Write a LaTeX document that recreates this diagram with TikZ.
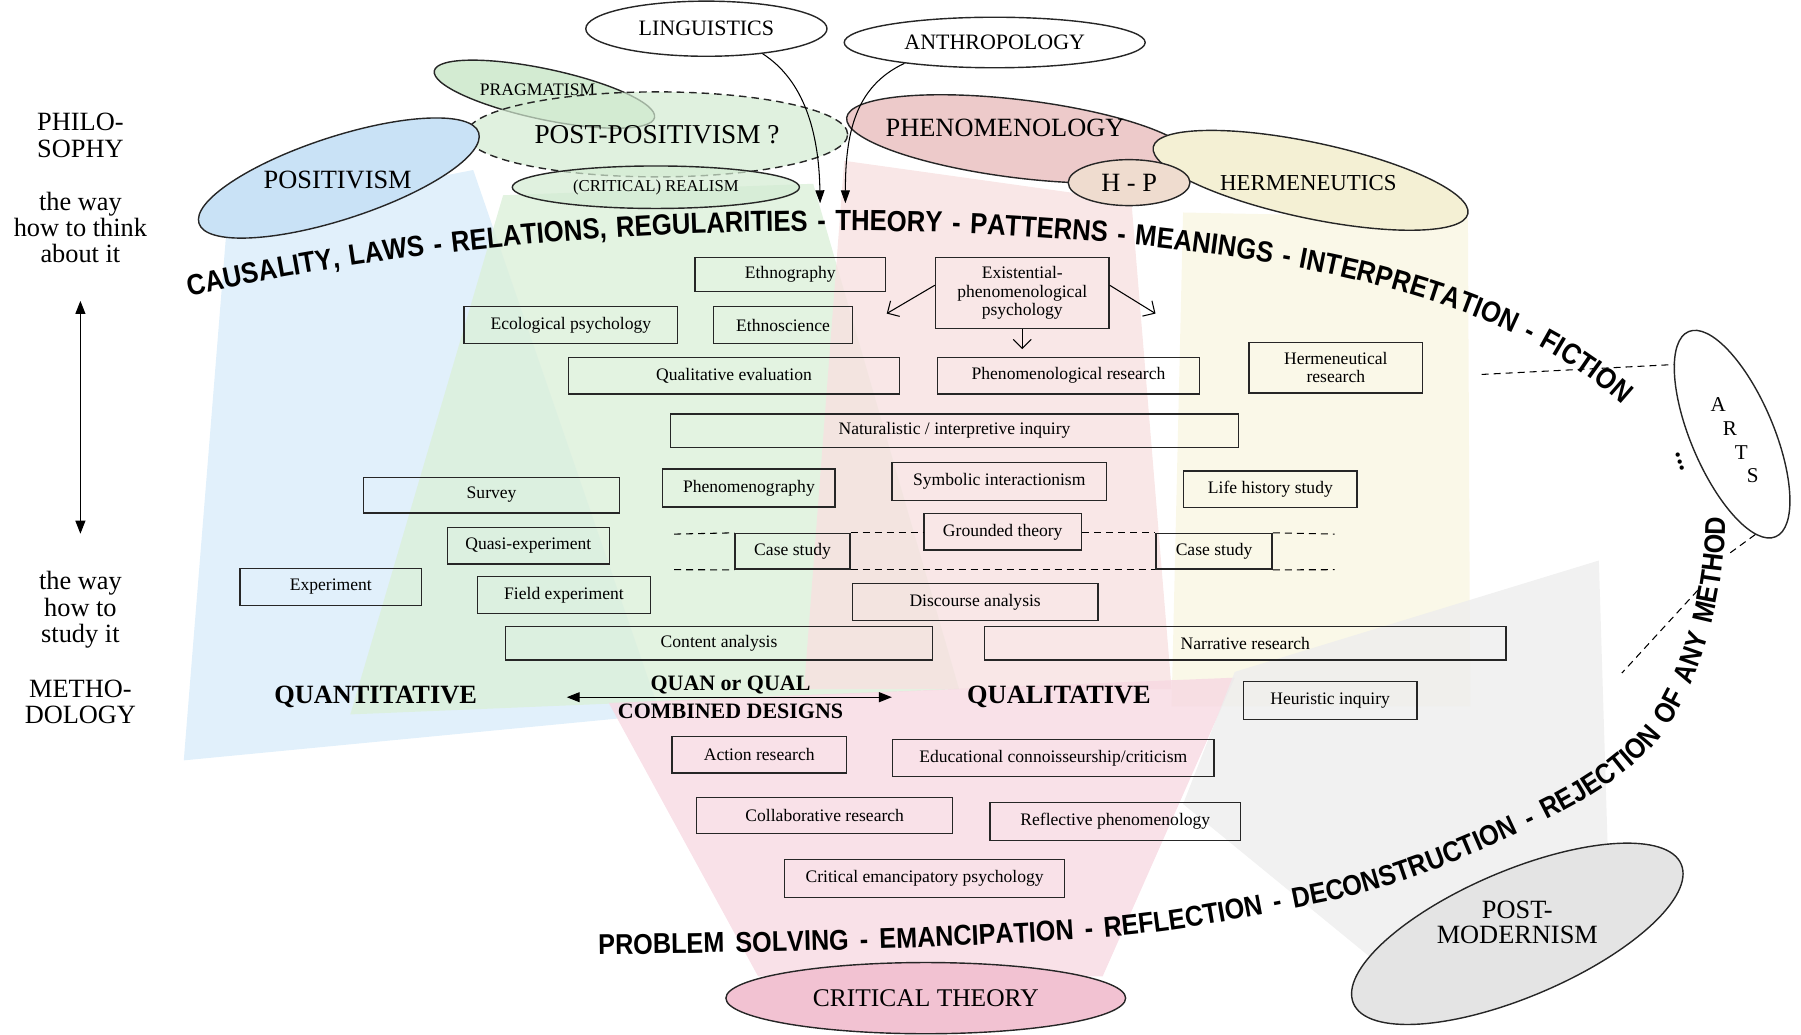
\documentclass[tikz,border=0pt]{standalone}
\usepackage{fontspec}
\setmainfont{Liberation Serif}
\newfontfamily\claimfont{Liberation Sans}[FakeStretch=0.88]
\usetikzlibrary{positioning,shapes.geometric,arrows.meta,decorations.text}

\begin{document}
\begin{tikzpicture}[x=0.22974mm, y=-0.22974mm]
       \definecolor{posblue}{HTML}{C9E2F6}
       \definecolor{beamblue}{HTML}{D9ECFA}
       \definecolor{postgreen}{HTML}{D3EBD2}
       \definecolor{beamgreen}{HTML}{DCF0DA}
       \definecolor{phenpink}{HTML}{EDCACA}
       \definecolor{beampink}{HTML}{F7E1E1}
       \definecolor{hermyellow}{HTML}{F4F0D4}
       \definecolor{beamyellow}{HTML}{F9F6E2}
       \definecolor{hpbeige}{HTML}{EFDCCF}
       \definecolor{critpink}{HTML}{F2C2D2}
       \definecolor{beamcrit}{HTML}{F7D9E2}
       \definecolor{postgray}{HTML}{E4E4E4}
       \definecolor{beamgray}{HTML}{EDEDED}

       \newcommand{\pxu}[0]{0.22974mm}
       \newcommand{\boxtext}[0]{\fontsize{10}{10.5}\selectfont}
       \newcommand{\topclaim}[0]{\claimfont\bfseries\fontsize{16.6}{16.6}\selectfont}
       \newcommand{\bottomclaim}[0]{\claimfont\bfseries\fontsize{16.3}{16.3}\selectfont}

       \tikzstyle{method}    = [rectangle, draw=black!85, thick, inner sep=0pt, align=center, font=\boxtext]
       \tikzstyle{school}    = [ellipse, draw=black!85, thick, inner sep=0pt, text opacity=1]
       \tikzstyle{beam}      = [fill opacity=0.8]
       \tikzstyle{sidenote}  = [align=center, inner sep=0pt, font=\fontsize{15}{15}\selectfont]
       \tikzstyle{approach}  = [align=center, inner sep=0pt, font=\bfseries\fontsize{15}{15}\selectfont]
       \tikzstyle{influence} = [semithick, -{Triangle[length=2.6mm, width=1.8mm]}]
       \tikzstyle{offshoot}  = [semithick, -{Straight Barb[length=1.8mm, width=3.6mm]}]
       \tikzstyle{twoway}    = [semithick, {Triangle[length=2.6mm, width=2mm]}-{Triangle[length=2.6mm, width=2mm]}]
       \tikzstyle{hint}      = [semithick, dash pattern=on 1.4mm off 1mm]

       \useasboundingbox (0,0) rectangle (1568,901);

       \fill [beam, beamblue]   (198,190) -- (412,148) -- (575,622) -- (160,662) -- cycle;
       \fill [beam, beamgreen]  (438,170) -- (708,160) -- (835,600) -- (305,622) -- cycle;
       \fill [beam, beampink]   (735,140) -- (985,175) -- (1020,600) -- (700,600) -- cycle;
       \fill [beam, beamyellow] (1030,185) -- (1278,190) -- (1280,615) -- (1020,615) -- cycle;
       \fill [beam, beamcrit]   (530,612) -- (1075,590) -- (960,850) -- (660,850) -- cycle;
       \fill [beam, beamgray]   (1075,585) -- (1392,488) -- (1400,748) -- (1195,835) -- (1030,700) -- cycle;

       \node [school, fill=postgreen, rotate=-12, minimum width=196*\pxu, minimum height=44*\pxu] (pragmatism) at (474,82) {};
       \node [font=\fontsize{10}{10}\selectfont] (praglabel) at (468,78) {PRAGMATISM};
       \node [school, fill=phenpink, rotate=-7, minimum width=304*\pxu, minimum height=68*\pxu] (phenomenology) at (888,121) {};
       \node [font=\fontsize{15}{15}\selectfont] (phenlabel) at (875,111) {PHENOMENOLOGY};
       \node [school, dash pattern=on 1.5mm off 1mm, fill=postgreen, fill opacity=0.7, minimum width=332*\pxu, minimum height=74*\pxu,
              font=\fontsize{15.5}{15.5}\selectfont] (postpositivism) at (572,117) {POST-POSITIVISM ?};
       \node [school, fill=postgreen, fill opacity=0.7, minimum width=250*\pxu, minimum height=37*\pxu,
              font=\fontsize{9.5}{9.5}\selectfont] (realism) at (571,163) {(CRITICAL) REALISM};
       \node [school, fill=posblue, rotate=18, minimum width=256*\pxu, minimum height=72*\pxu] (positivism) at (295,155) {};
       \node [font=\fontsize{15}{15}\selectfont] (poslabel) at (294,157) {POSITIVISM};
       \node [school, fill=hermyellow, rotate=-12, minimum width=280*\pxu, minimum height=66*\pxu] (hermeneutics) at (1141,157) {};
       \node [font=\fontsize{13}{13}\selectfont] (hermlabel) at (1139,159) {HERMENEUTICS};
       \node [school, fill=hpbeige, minimum width=106*\pxu, minimum height=40*\pxu, font=\fontsize{15}{15}\selectfont] (hp) at (983,159) {H - P};
       \node [school, fill=white, minimum width=210*\pxu, minimum height=48*\pxu, font=\fontsize{12.5}{12.5}\selectfont] (linguistics) at (615,25) {LINGUISTICS};
       \node [school, fill=white, minimum width=262*\pxu, minimum height=44*\pxu, font=\fontsize{12.5}{12.5}\selectfont] (anthropology) at (866,37) {ANTHROPOLOGY};
       \node [school, fill=critpink, minimum width=348*\pxu, minimum height=62*\pxu, font=\fontsize{14.5}{14.5}\selectfont] (criticaltheory) at (806,869) {CRITICAL THEORY};
       \node [school, fill=postgray, rotate=23, minimum width=310*\pxu, minimum height=110*\pxu] (postmodernism) at (1321,813) {};
       \node [align=center, font=\fontsize{15}{14.5}\selectfont] (pmlabel) at (1321,803) {POST-\\MODERNISM};
       \node [school, fill=white, rotate=-67, minimum width=194*\pxu, minimum height=72*\pxu] (arts) at (1508,378) {};
       \node [font=\fontsize{12}{12}\selectfont] (artsa) at (1496,352) {A};
       \node [font=\fontsize{12}{12}\selectfont] (artsr) at (1506,373) {R};
       \node [font=\fontsize{12}{12}\selectfont] (artst) at (1516,394) {T};
       \node [font=\fontsize{12}{12}\selectfont] (artss) at (1526,414) {S};
       \node [rotate=-72, font=\bfseries\fontsize{15}{15}\selectfont] (artsdots) at (1463,402) {...};

       \node [sidenote] (philosophy)  at (70,118) {PHILO-\\SOPHY};
       \node [sidenote] (thinkway)    at (70,198) {the way\\how to think\\about it};
       \node [sidenote] (studyway)    at (70,531) {the way\\how to\\study it};
       \node [sidenote] (methodology) at (70,611) {METHO-\\DOLOGY};

       \node [method, minimum width=166*\pxu, minimum height=30*\pxu] (ethnography) at (688,239) {Ethnography};
       \node [method, minimum width=151*\pxu, minimum height=62*\pxu] (existential) at (890,255) {Existential-\\phenomenological\\psychology};
       \node [method, minimum width=186*\pxu, minimum height=32*\pxu] (ecological) at (497,283) {Ecological psychology};
       \node [method, right=6.9mm of ecological, minimum width=121*\pxu, minimum height=32*\pxu] (ethnoscience) {Ethnoscience};
       \node [method, minimum width=288*\pxu, minimum height=32*\pxu] (qualeval) at (639,327) {Qualitative evaluation};
       \node [method, right=7.35mm of qualeval, minimum width=228*\pxu, minimum height=32*\pxu] (phenresearch) {Phenomenological research};
       \node [method, minimum width=151*\pxu, minimum height=44*\pxu] (hermresearch) at (1163,320) {Hermeneutical\\research};
       \node [method, minimum width=495*\pxu, minimum height=29*\pxu] (naturalistic) at (831,375) {Naturalistic / interpretive inquiry};
       \node [method, minimum width=223*\pxu, minimum height=31*\pxu] (survey) at (428,431) {Survey};
       \node [method, minimum width=150*\pxu, minimum height=33*\pxu] (phenography) at (652,425) {Phenomenography};
       \node [method, minimum width=187*\pxu, minimum height=33*\pxu] (symbolic) at (870,419) {Symbolic interactionism};
       \node [method, minimum width=151*\pxu, minimum height=32*\pxu] (lifehistory) at (1106,426) {Life history study};
       \node [method, minimum width=137*\pxu, minimum height=32*\pxu] (grounded) at (873,463) {Grounded theory};
       \node [method, minimum width=141*\pxu, minimum height=32*\pxu] (quasi) at (460,475) {Quasi-experiment};
       \node [method, minimum width=100*\pxu, minimum height=31*\pxu] (caseleft) at (690,480) {Case study};
       \node [method, minimum width=101*\pxu, minimum height=31*\pxu] (caseright) at (1057,480) {Case study};
       \node [method, minimum width=158*\pxu, minimum height=32*\pxu] (experiment) at (288,511) {Experiment};
       \node [method, minimum width=151*\pxu, minimum height=32*\pxu] (fieldexp) at (491,518) {Field experiment};
       \node [method, minimum width=214*\pxu, minimum height=32*\pxu] (discourse) at (849,524) {Discourse analysis};
       \node [method, minimum width=372*\pxu, minimum height=29*\pxu] (content) at (626,560) {Content analysis};
       \node [method, right=10.1mm of content, minimum width=454*\pxu, minimum height=29*\pxu] (narrative) {Narrative research};
       \node [method, minimum width=151*\pxu, minimum height=33*\pxu] (heuristic) at (1158,610) {Heuristic inquiry};
       \node [method, minimum width=152*\pxu, minimum height=32*\pxu] (action) at (661,657) {Action research};
       \node [method, minimum width=280*\pxu, minimum height=32*\pxu] (connoisseur) at (917,660) {Educational connoisseurship/criticism};
       \node [method, minimum width=223*\pxu, minimum height=31*\pxu] (collab) at (718,710) {Collaborative research};
       \node [method, minimum width=218*\pxu, minimum height=33*\pxu] (reflective) at (971,715) {Reflective phenomenology};
       \node [method, minimum width=244*\pxu, minimum height=33*\pxu] (emancipatory) at (805,765) {Critical emancipatory psychology};

       \node [approach] (quantitative) at (327,607) {QUANTITATIVE};
       \node [approach] (qualitative)  at (922,607) {QUALITATIVE};
       \node [approach, font=\bfseries\fontsize{12.5}{15.7}\selectfont] (quanqual) at (636,607) {QUAN or QUAL\\COMBINED DESIGNS};

       \coordinate (lingtip) at (714,177);
       \coordinate (anthtip) at (736,177);
       \coordinate (toethno) at (772,273);
       \coordinate (toherm)  at (1006,273);
       \coordinate (tophen)  at (890,304);
       \coordinate (rowtopleft)  at (587,465);
       \coordinate (rowtopright) at (1162,465);
       \coordinate (rowbotleft)  at (587,496);
       \coordinate (rowbotright) at (1162,496);
       \coordinate (fictiontail) at (1290,326);
       \coordinate (artsgap)     at (1504,483);
       \coordinate (methodgap)   at (1478,514);
       \coordinate (methodtail)  at (1412,586);

       \draw [influence] (linguistics.-24) .. controls (700,70) and (713,115) .. (lingtip);
       \draw [influence] (anthropology.193) .. controls (745,75) and (736,115) .. (anthtip);
       \draw [offshoot] (existential.175) -- (toethno);
       \draw [offshoot] (existential.5)   -- (toherm);
       \draw [offshoot] (existential.south) -- (tophen);

       \draw [hint] (rowtopleft) -- (caseleft.north west);
       \draw [hint] (caseleft.north east) -- (grounded.west |- caseleft.north);
       \draw [hint] (grounded.east |- caseright.north) -- (caseright.north west);
       \draw [hint] (caseright.north east) -- (rowtopright);
       \draw [hint] (rowbotleft) -- (caseleft.south west);
       \draw [hint] (caseleft.south east) -- (caseright.south west);
       \draw [hint] (caseright.south east) -- (rowbotright);

       \draw [hint] (fictiontail) -- (arts.197);
       \draw [hint] (arts.350) -- (artsgap);
       \draw [hint] (methodgap) -- (methodtail);

       \draw [twoway, shorten <=7.5mm, shorten >=7.5mm] (thinkway) -- (studyway);
       \draw [twoway, shorten <=17.9mm, shorten >=15mm] (quantitative) -- (qualitative);

       \path [decorate, decoration={text along path, text align={fit to path stretching spaces},
              text={|\topclaim|CAUSALITY, LAWS - RELATIONS, REGULARITIES - THEORY - PATTERNS - MEANINGS - INTERPRETATION - FICTION}}]
             (165,258) .. controls (420,200) and (700,195) .. (880,205) .. controls (1100,218) and (1300,250) .. (1412,352);
       \path [decorate, decoration={text along path, text align={fit to path stretching spaces},
              text={|\bottomclaim|PROBLEM SOLVING - EMANCIPATION - REFLECTION - DECONSTRUCTION - REJECTION OF ANY METHOD}}]
             (521,831) .. controls (700,829) and (850,824) .. (950,817)
             .. controls (1020,812) and (1080,800) .. (1150,786)
             .. controls (1220,772) and (1290,742) .. (1350,712)
             .. controls (1400,687) and (1435,660) .. (1455,628)
             .. controls (1480,590) and (1502,520) .. (1502,450);
\end{tikzpicture}
\end{document}
